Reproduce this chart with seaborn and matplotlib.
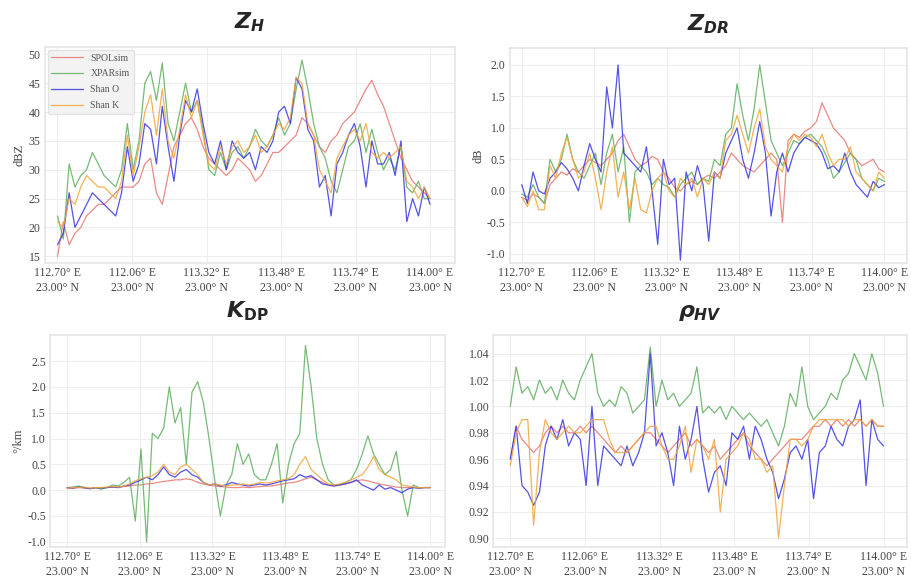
import numpy as np
import pandas as pd
import matplotlib
matplotlib.use("Agg")
import matplotlib.pyplot as plt
import seaborn as sns

# ---------------- data ----------------
series_names = ["SPOLsim", "XPARsim", "Shan O", "Shan K"]
series_colors = ["#e8766f", "#5fae5f", "#3535e6", "#f2a53a"]

tick_labels = ["112.70° E\n23.00° N", "112.06° E\n23.00° N", "113.32° E\n23.00° N",
               "113.48° E\n23.00° N", "113.74° E\n23.00° N", "114.00° E\n23.00° N"]

zh_red = [15, 21, 17, 19, 20, 22, 23, 24, 24, 25, 26, 27, 27, 27, 28, 31, 32, 26, 24, 29,
          34, 36, 38, 39, 37, 34, 32, 31, 30, 29, 30, 32, 31, 30, 28, 29, 31, 33, 33, 34,
          35, 36, 39, 38, 36, 34, 33, 35, 36, 38, 39, 40, 42, 44, 45.5, 43, 41, 38, 35, 32,
          30, 28, 27, 26, 25]
zh_green = [22, 18, 31, 27, 29, 30, 33, 31, 29, 28, 27, 30, 38, 30, 35, 45, 47, 42, 48.5, 38,
            35, 40, 45, 40, 42, 37, 30, 29, 33, 30, 33, 34, 32, 34, 37, 35, 34, 36, 39, 36,
            38, 44, 49, 44, 38, 34, 32, 28, 26, 30, 34, 35, 38, 33, 37, 33, 30, 32, 30, 34,
            27, 26, 28, 25, 25]
zh_blue = [17, 19, 26, 20, 22, 24, 26, 25, 24, 23, 22, 26, 34, 28, 31, 38, 37, 31, 41, 34,
           28, 36, 42, 40, 44, 38, 33, 31, 35, 30, 35, 33, 32, 33, 30, 34, 33, 35, 40, 41,
           38, 46, 44, 37, 35, 27, 29, 22, 31, 33, 36, 38, 34, 27, 35, 31, 31, 33, 29, 35,
           21, 25, 22, 27, 24]
zh_orange = [21, 20, 25, 24, 27, 29, 28, 27, 27, 26, 25, 28, 36, 29, 34, 40, 43, 36, 44, 35,
             32, 37, 43, 39, 42, 36, 31, 30, 34, 31, 34, 35, 33, 34, 36, 33, 34, 36, 38, 37,
             39, 46, 45, 38, 36, 30, 28, 26, 32, 34, 36, 37, 35, 38, 33, 32, 33, 32, 33, 34,
             28, 27, 25, 27, 25]

zdr_red = [-0.1, -0.15, -0.05, -0.1, -0.2, 0.1, 0.2, 0.3, 0.25, 0.35, 0.3, 0.4, 0.5, 0.45, 0.4,
           0.5, 0.6, 0.8, 0.9, 0.7, 0.5, 0.4, 0.45, 0.55, 0.5, 0.3, 0.2, 0.05, 0.0, 0.1,
           0.15, 0.1, 0.2, 0.25, 0.2, 0.3, 0.4, 0.6, 0.5, 0.4, 0.35, 0.3, 0.4, 0.5, 0.6,
           0.5, -0.5, 0.8, 0.9, 0.85, 0.95, 1.0, 1.1, 1.4, 1.2, 1.0, 0.9, 0.8, 0.6, 0.5,
           0.4, 0.45, 0.5, 0.35, 0.3]
zdr_green = [-0.05, -0.1, 0.1, -0.1, -0.2, 0.5, 0.3, 0.5, 0.9, 0.5, 0.3, 0.2, 0.4, 0.6, 0.1,
             0.6, 0.9, 0.3, 0.7, -0.5, 0.3, 0.4, 0.3, 0.1, 0.2, 0.1, 0.05, -0.1, 0.1, 0.2,
             0.3, 0.1, 0.2, 0.15, 0.5, 0.4, 0.9, 1.0, 1.7, 1.2, 0.8, 1.3, 2.0, 1.4, 0.8,
             0.6, 0.4, 0.6, 0.8, 0.75, 0.85, 0.9, 0.8, 0.7, 0.5, 0.2, 0.3, 0.45, 0.6, 0.5,
             0.2, 0.1, 0.0, 0.2, 0.15]
zdr_blue = [0.1, -0.2, 0.3, 0.0, -0.05, 0.2, 0.3, 0.45, 0.35, 0.2, 0.0, 0.4, 0.75, 0.5, 0.3,
            1.65, 1.0, 2.0, 0.6, 0.5, 0.4, 0.3, 0.7, 0.0, -0.85, 0.5, 0.1, 0.2, -1.1, 0.3,
            0.0, 0.4, 0.1, -0.8, 0.3, 0.2, 0.6, 0.8, 1.0, 0.5, 0.2, 0.6, 1.1, 0.6, -0.4,
            0.3, 0.6, 0.3, 0.6, 0.75, 0.85, 0.8, 0.75, 0.6, 0.35, 0.4, 0.3, 0.6, 0.3, 0.1,
            0.0, -0.1, 0.15, 0.05, 0.1]
zdr_orange = [-0.1, -0.25, 0.0, -0.3, -0.3, 0.4, 0.2, 0.6, 0.85, 0.5, 0.2, 0.3, 0.6, 0.2, -0.3,
              0.3, 0.7, -0.1, 0.3, -0.3, 0.2, -0.3, -0.35, 0.0, 0.2, 0.3, 0.0, -0.1, 0.2, 0.1,
              0.2, -0.1, 0.2, 0.1, 0.3, 0.2, 0.8, 0.9, 1.2, 0.9, 0.6, 1.0, 1.3, 0.7, 0.5,
              0.4, 0.3, 0.7, 0.9, 0.8, 0.9, 0.85, 0.7, 0.9, 0.6, 0.4, 0.5, 0.5, 0.7, 0.3,
              0.2, 0.1, 0.0, 0.3, 0.2]

kdp_red = [0.03, 0.04, 0.05, 0.04, 0.03, 0.04, 0.05, 0.05, 0.06, 0.06, 0.07, 0.08, 0.1, 0.1, 0.12,
           0.13, 0.15, 0.17, 0.18, 0.2, 0.2, 0.22, 0.2, 0.15, 0.12, 0.1, 0.08, 0.07, 0.06, 0.05,
           0.05, 0.06, 0.05, 0.06, 0.07, 0.08, 0.08, 0.1, 0.12, 0.14, 0.15, 0.18, 0.22, 0.25, 0.2,
           0.15, 0.1, 0.08, 0.1, 0.12, 0.15, 0.18, 0.2, 0.18, 0.15, 0.12, 0.1, 0.08, 0.06, 0.05,
           0.05, 0.05, 0.04, 0.05, 0.05]
kdp_green = [0.05, 0.06, 0.08, 0.05, 0.03, 0.05, 0.02, 0.05, 0.1, 0.08, 0.15, 0.25, -0.6, 0.8, -1.0,
             1.1, 1.0, 1.2, 2.0, 1.3, 1.6, 0.5, 1.9, 2.1, 1.7, 1.0, 0.2, -0.5, 0.1, 0.3,
             0.9, 0.5, 0.7, 0.3, 0.2, 0.2, 0.5, 0.9, -0.25, 0.5, 0.9, 1.1, 2.8, 2.0, 1.0,
             0.5, 0.2, 0.1, 0.1, 0.15, 0.2, 0.4, 0.7, 1.05, 0.7, 0.5, 0.3, 0.4, 0.75, 0.0,
             -0.5, 0.1, 0.05, 0.05, 0.05]
kdp_blue = [0.05, 0.04, 0.06, 0.05, 0.03, 0.05, 0.04, 0.05, 0.06, 0.05, 0.08, 0.1, 0.15, 0.2, 0.25,
            0.2, 0.3, 0.45, 0.3, 0.25, 0.35, 0.4, 0.3, 0.25, 0.15, 0.1, 0.12, 0.08, 0.1, 0.15,
            0.12, 0.1, 0.08, 0.1, 0.12, 0.1, 0.12, 0.15, 0.18, 0.2, 0.22, 0.3, 0.25, 0.28, 0.2,
            0.12, 0.1, 0.08, 0.1, 0.12, 0.15, 0.2, 0.1, 0.05, 0.0, 0.1, 0.02, 0.05, 0.0, -0.05,
            0.02, 0.05, 0.04, 0.05, 0.05]
kdp_orange = [0.04, 0.05, 0.05, 0.06, 0.04, 0.05, 0.05, 0.06, 0.07, 0.06, 0.08, 0.12, 0.18, 0.22, 0.25,
              0.28, 0.35, 0.5, 0.35, 0.3, 0.45, 0.5, 0.4, 0.3, 0.15, 0.1, 0.12, 0.1, 0.08, 0.1,
              0.1, 0.12, 0.1, 0.12, 0.15, 0.14, 0.15, 0.18, 0.2, 0.22, 0.3, 0.5, 0.65, 0.4, 0.3,
              0.2, 0.12, 0.1, 0.12, 0.15, 0.2, 0.25, 0.3, 0.45, 0.65, 0.4, 0.3, 0.25, 0.2, 0.1,
              0.08, 0.06, 0.05, 0.05, 0.05]

rho_red = [0.96, 0.985, 0.975, 0.97, 0.965, 0.97, 0.98, 0.985, 0.98, 0.985, 0.98, 0.98, 0.985, 0.98, 0.985,
           0.98, 0.975, 0.97, 0.965, 0.97, 0.965, 0.97, 0.975, 0.98, 0.98, 0.975, 0.97, 0.965, 0.97, 0.975,
           0.98, 0.97, 0.975, 0.97, 0.965, 0.97, 0.96, 0.965, 0.97, 0.975, 0.98, 0.97, 0.965, 0.96, 0.955,
           0.96, 0.965, 0.97, 0.975, 0.975, 0.975, 0.98, 0.985, 0.985, 0.99, 0.985, 0.99, 0.985, 0.99, 0.985,
           0.99, 0.985, 0.99, 0.985, 0.985]
rho_green = [1.0, 1.03, 1.01, 1.015, 1.005, 1.02, 1.01, 1.015, 1.005, 1.02, 1.01, 1.005, 1.02, 1.03, 1.04,
             1.01, 1.0, 1.005, 1.0, 1.015, 1.01, 0.995, 1.0, 1.005, 1.045, 1.0, 1.02, 1.005, 1.01, 1.0,
             1.005, 1.01, 1.03, 0.995, 1.0, 0.995, 1.0, 0.99, 1.0, 0.995, 0.99, 0.995, 0.99, 0.985, 0.99,
             0.98, 0.97, 0.985, 1.01, 1.0, 1.03, 1.0, 0.99, 0.995, 1.0, 1.01, 1.005, 1.02, 1.025, 1.04,
             1.03, 1.02, 1.04, 1.025, 1.0]
rho_blue = [0.96, 0.985, 0.94, 0.935, 0.925, 0.935, 0.97, 0.985, 0.975, 0.99, 0.97, 0.98, 0.975, 0.94, 1.0,
            0.94, 0.97, 0.965, 0.96, 0.955, 0.97, 0.955, 0.965, 0.98, 1.04, 0.97, 0.98, 0.965, 0.94, 0.985,
            0.96, 0.975, 1.0, 0.96, 0.935, 0.95, 0.955, 0.94, 0.98, 0.975, 0.985, 0.96, 0.985, 0.975, 0.96,
            0.95, 0.93, 0.945, 0.965, 0.97, 0.96, 0.975, 0.93, 0.965, 0.97, 0.985, 0.975, 0.97, 0.985, 0.99,
            1.005, 0.94, 0.99, 0.975, 0.97]
rho_orange = [0.955, 0.98, 0.99, 0.99, 0.91, 0.965, 0.99, 0.98, 0.975, 0.98, 0.985, 0.98, 0.98, 0.985, 0.99,
              0.99, 0.99, 0.975, 0.965, 0.965, 0.965, 0.97, 0.975, 0.98, 0.985, 0.985, 0.97, 0.96, 0.96, 0.97,
              0.985, 0.95, 0.975, 0.97, 0.96, 0.975, 0.92, 0.96, 0.965, 0.97, 0.98, 0.975, 0.96, 0.96, 0.95,
              0.955, 0.90, 0.94, 0.975, 0.975, 0.97, 0.975, 0.985, 0.99, 0.99, 0.99, 0.99, 0.99, 0.985, 0.99,
              0.99, 0.985, 0.99, 0.985, 0.985]

# ---------------- style ----------------
sns.set_theme(style="whitegrid")
plt.rcParams["font.family"] = ["Liberation Serif", "DejaVu Serif"]
plt.rcParams["mathtext.fontset"] = "custom"
plt.rcParams["mathtext.it"] = "DejaVu Sans:italic:bold"
plt.rcParams["mathtext.rm"] = "DejaVu Sans:bold"
plt.rcParams["mathtext.bf"] = "DejaVu Sans:bold"
plt.rcParams["axes.edgecolor"] = "#e6e6e6"
plt.rcParams["grid.color"] = "#eeeeee"

fig = plt.figure(figsize=(9.12, 5.85), dpi=100)

panels = [
    dict(rect=[0.049, 0.550, 0.450, 0.370], data=[zh_red, zh_green, zh_blue, zh_orange],
         title=r"$Z_H$", ylabel="dBZ", ylim=(13.8, 51.3),
         yticks=[15, 20, 25, 30, 35, 40, 45, 50], yfmt="{:.0f}", xlim=(-2.2, 68.3), legend=True),
    dict(rect=[0.559, 0.550, 0.435, 0.368], data=[zdr_red, zdr_green, zdr_blue, zdr_orange],
         title=r"$Z_{DR}$", ylabel="dB", ylim=(-1.15, 2.27),
         yticks=[-1.0, -0.5, 0.0, 0.5, 1.0, 1.5, 2.0], yfmt="{:.1f}", xlim=(-2.1, 67.9), legend=False),
    dict(rect=[0.055, 0.065, 0.433, 0.362], data=[kdp_red, kdp_green, kdp_blue, kdp_orange],
         title=r"$K_{\mathrm{DP}}$", ylabel="°/km", ylim=(-1.1, 3.0),
         yticks=[-1.0, -0.5, 0.0, 0.5, 1.0, 1.5, 2.0, 2.5], yfmt="{:.1f}", xlim=(-3.0, 66.6), legend=False),
    dict(rect=[0.541, 0.065, 0.454, 0.362], data=[rho_red, rho_green, rho_blue, rho_orange],
         title=r"$\rho_{HV}$", ylabel="", ylim=(0.8934, 1.054),
         yticks=[0.90, 0.92, 0.94, 0.96, 0.98, 1.00, 1.02, 1.04], yfmt="{:.2f}", xlim=(-2.9, 68.1), legend=False),
]

for p in panels:
    ax = fig.add_axes(p["rect"])
    frames = []
    for name, vals in zip(series_names, p["data"]):
        frames.append(pd.DataFrame({"idx": np.arange(len(vals)), "val": vals, "series": name}))
    df = pd.concat(frames, ignore_index=True)
    sns.lineplot(data=df, x="idx", y="val", hue="series", hue_order=series_names,
                 palette=series_colors, linewidth=0.9, alpha=0.85, ax=ax,
                 legend=p["legend"])
    n = len(p["data"][0])
    ax.set_xlim(*p["xlim"])
    ax.set_ylim(*p["ylim"])
    ax.set_xticks(np.linspace(0, n - 1, len(tick_labels)))
    ax.set_xticklabels(tick_labels, fontsize=8.5, color="#444444", linespacing=1.3)
    ax.set_yticks(p["yticks"])
    ax.set_yticklabels([p["yfmt"].format(v) for v in p["yticks"]], fontsize=8.5, color="#444444")
    ax.tick_params(axis="both", length=0, pad=3)
    ax.set_xlabel("")
    ax.set_ylabel(p["ylabel"], fontsize=9, color="#444444", labelpad=2)
    ax.set_title(p["title"], fontsize=16, pad=13)
    ax.grid(True, color="#eeeeee", linewidth=0.8)
    for s in ax.spines.values():
        s.set_color("#e6e6e6")
    if p["legend"]:
        leg = ax.legend(loc="upper left", fontsize=7, frameon=True, facecolor="#f2f2f2",
                        edgecolor="#e0e0e0", framealpha=0.9, handlelength=3.2,
                        borderaxespad=0.3, labelspacing=0.7)
        for t in leg.get_texts():
            t.set_color("#555555")

fig.savefig("out.png", dpi=100)
